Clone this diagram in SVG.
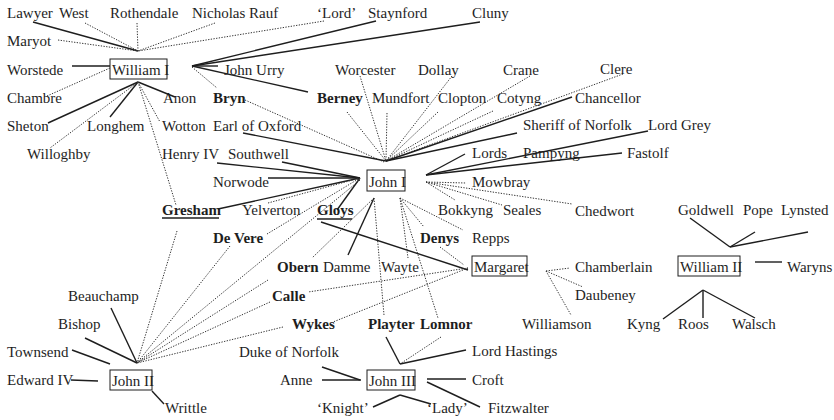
<svg xmlns="http://www.w3.org/2000/svg" width="834" height="420" viewBox="0 0 834 420">
<style>
text{font-family:"Liberation Serif","Times New Roman",serif;font-size:15px;fill:#1e1e1e}
.b{font-weight:bold}
.s{stroke:#1e1e1e;stroke-width:1.4;fill:none}
.d{stroke:#333;stroke-width:1;stroke-dasharray:1.3 1.4;fill:none}
.box{fill:#fff;stroke:#1e1e1e;stroke-width:1}
.u{stroke:#1e1e1e;stroke-width:1.3}
</style>
<rect width="834" height="420" fill="#fff"/>
<g id="connectors">
<!-- William I top hub -->
<line class="s" x1="33" y1="22" x2="138" y2="51"/>
<line class="d" x1="85" y1="23" x2="138" y2="51"/>
<line class="d" x1="137" y1="23" x2="138" y2="51"/>
<line class="d" x1="215" y1="23" x2="138" y2="51"/>
<line class="d" x1="324" y1="21" x2="138" y2="51"/>
<line class="d" x1="58" y1="40" x2="138" y2="51"/>
<!-- William I left -->
<line class="s" x1="72" y1="66" x2="110" y2="66"/>
<line class="d" x1="47" y1="96" x2="110" y2="68"/>
<!-- William I right hub -->
<line class="s" x1="192" y1="66" x2="376" y2="21"/>
<line class="s" x1="192" y1="66" x2="480" y2="22"/>
<line class="s" x1="192" y1="66" x2="218" y2="66"/>
<line class="s" x1="192" y1="66" x2="308" y2="92"/>
<line class="d" x1="192" y1="67" x2="217" y2="88"/>
<!-- William I bottom hub -->
<line class="s" x1="138" y1="82" x2="48" y2="123"/>
<line class="s" x1="138" y1="82" x2="110" y2="117"/>
<line class="s" x1="138" y1="82" x2="175" y2="97"/>
<line class="d" x1="138" y1="82" x2="50" y2="148"/>
<line class="d" x1="138" y1="82" x2="160" y2="122"/>
<line class="d" x1="138" y1="82" x2="176" y2="205"/>
<!-- John I top hub -->
<line class="d" x1="245" y1="100" x2="384" y2="162"/>
<line class="d" x1="347" y1="112" x2="386" y2="161"/>
<line class="s" x1="243" y1="133" x2="386" y2="161"/>
<line class="d" x1="360" y1="76" x2="386" y2="161"/>
<line class="d" x1="387" y1="113" x2="386" y2="161"/>
<line class="d" x1="452" y1="76" x2="386" y2="161"/>
<line class="d" x1="438" y1="112" x2="386" y2="161"/>
<line class="d" x1="530" y1="76" x2="386" y2="161"/>
<line class="d" x1="493" y1="111" x2="386" y2="161"/>
<line class="d" x1="623" y1="74" x2="386" y2="161"/>
<line class="s" x1="572" y1="97" x2="386" y2="161"/>
<line class="s" x1="517" y1="133" x2="386" y2="161"/>
<!-- John I right -->
<line class="s" x1="465" y1="154" x2="426" y2="175"/>
<line class="s" x1="648" y1="131" x2="426" y2="175"/>
<line class="s" x1="622" y1="153" x2="426" y2="175"/>
<line class="d" x1="426" y1="182" x2="466" y2="183"/>
<line class="d" x1="426" y1="182" x2="455" y2="200"/>
<line class="d" x1="426" y1="182" x2="502" y2="205"/>
<line class="d" x1="426" y1="182" x2="572" y2="204"/>
<!-- John I left hub -->
<line class="s" x1="217" y1="163" x2="360" y2="178"/>
<line class="s" x1="282" y1="162" x2="360" y2="178"/>
<line class="s" x1="268" y1="178" x2="360" y2="178"/>
<line class="s" x1="218" y1="209" x2="360" y2="178"/>
<line class="s" x1="337" y1="210" x2="360" y2="178"/>
<line class="d" x1="268" y1="203" x2="360" y2="178"/>
<line class="d" x1="267" y1="234" x2="360" y2="178"/>
<line class="d" x1="360" y1="180" x2="137" y2="363"/>
<!-- John I bottom -->
<line class="s" x1="374" y1="198" x2="348" y2="255"/>
<line class="d" x1="374" y1="198" x2="312" y2="258"/>
<line class="d" x1="374" y1="198" x2="384" y2="315"/>
<line class="d" x1="400" y1="198" x2="408" y2="258"/>
<line class="d" x1="400" y1="198" x2="438" y2="318"/>
<line class="d" x1="400" y1="198" x2="424" y2="227"/>
<line class="d" x1="400" y1="198" x2="463" y2="230"/>
<!-- Margaret -->
<line class="s" x1="321" y1="222" x2="468" y2="270"/>
<line class="d" x1="440" y1="247" x2="464" y2="265"/>
<line class="d" x1="468" y1="268" x2="308" y2="292"/>
<line class="d" x1="468" y1="268" x2="333" y2="322"/>
<line class="d" x1="546" y1="271" x2="570" y2="268"/>
<line class="d" x1="546" y1="271" x2="583" y2="287"/>
<line class="d" x1="546" y1="271" x2="571" y2="315"/>
<!-- John II hub -->
<line class="s" x1="111" y1="308" x2="137" y2="363"/>
<line class="s" x1="85" y1="338" x2="137" y2="363"/>
<line class="d" x1="177" y1="231" x2="137" y2="363"/>
<line class="d" x1="230" y1="246" x2="137" y2="363"/>
<line class="d" x1="268" y1="280" x2="137" y2="363"/>
<line class="d" x1="270" y1="302" x2="137" y2="363"/>
<line class="d" x1="283" y1="327" x2="137" y2="363"/>
<line class="s" x1="72" y1="350" x2="110" y2="364"/>
<line class="s" x1="71" y1="380" x2="98" y2="381"/>
<line class="s" x1="152" y1="391" x2="164" y2="404"/>
<!-- John III -->
<line class="s" x1="386" y1="337" x2="400" y2="364"/>
<line class="d" x1="441" y1="337" x2="400" y2="364"/>
<line class="s" x1="466" y1="350" x2="400" y2="364"/>
<line class="s" x1="322" y1="367" x2="360" y2="380"/>
<line class="s" x1="322" y1="380" x2="361" y2="380"/>
<line class="s" x1="427" y1="379" x2="466" y2="379"/>
<line class="s" x1="427" y1="382" x2="480" y2="407"/>
<line class="s" x1="373" y1="407" x2="400" y2="395"/>
<line class="s" x1="400" y1="395" x2="431" y2="404"/>
<!-- William II -->
<line class="s" x1="690" y1="218" x2="730" y2="247"/>
<line class="s" x1="755" y1="232" x2="730" y2="247"/>
<line class="s" x1="808" y1="232" x2="730" y2="247"/>
<line class="s" x1="755" y1="262" x2="782" y2="262"/>
<line class="s" x1="663" y1="319" x2="703" y2="290"/>
<line class="s" x1="703" y1="318" x2="703" y2="290"/>
<line class="s" x1="755" y1="318" x2="703" y2="290"/>
</g>
<g id="william1"><rect class="box" x="110" y="59" width="57" height="20"/><text x="112" y="75">William I</text></g>
<g id="john1"><rect class="box" x="367" y="170" width="38" height="21"/><text x="369" y="187">John I</text></g>
<g id="margaret"><rect class="box" x="472" y="256" width="55" height="20"/><text x="474" y="272">Margaret</text></g>
<g id="william2"><rect class="box" x="678" y="256" width="62" height="20"/><text x="680" y="272">William II</text></g>
<g id="john2"><rect class="box" x="110" y="370" width="42" height="20"/><text x="112" y="386">John II</text></g>
<g id="john3"><rect class="box" x="367" y="370" width="48" height="20"/><text x="369" y="386">John III</text></g>
<g id="labels">
<text x="7" y="18">Lawyer</text>
<text x="59" y="18">West</text>
<text x="110" y="18">Rothendale</text>
<text x="192" y="18">Nicholas Rauf</text>
<text x="317" y="18">‘Lord’</text>
<text x="368" y="18">Staynford</text>
<text x="472" y="18">Cluny</text>
<text x="7" y="46">Maryot</text>
<text x="7" y="75">Worstede</text>
<text x="224" y="75">John Urry</text>
<text x="335" y="75">Worcester</text>
<text x="418" y="75">Dollay</text>
<text x="503" y="75">Crane</text>
<text x="600" y="74">Clere</text>
<text x="7" y="103">Chambre</text>
<text x="163" y="103">Anon</text>
<text class="b" x="213" y="103">Bryn</text>
<text class="b" x="317" y="103">Berney</text>
<text x="372" y="103">Mundfort</text>
<text x="438" y="103">Clopton</text>
<text x="497" y="103">Cotyng</text>
<text x="575" y="103">Chancellor</text>
<text x="7" y="131">Sheton</text>
<text x="87" y="131">Longhem</text>
<text x="162" y="131">Wotton</text>
<text x="213" y="131">Earl of Oxford</text>
<text x="523" y="130">Sheriff of Norfolk</text>
<text x="648" y="130">Lord Grey</text>
<text x="27" y="159">Willoghby</text>
<text x="162" y="159">Henry IV</text>
<text x="228" y="159">Southwell</text>
<text x="472" y="158">Lords</text>
<text x="523" y="158">Pampyng</text>
<text x="627" y="158">Fastolf</text>
<text x="213" y="187">Norwode</text>
<text x="472" y="187">Mowbray</text>
<text class="b" x="162" y="215">Gresham</text>
<line class="u" x1="162" y1="218" x2="219" y2="218"/>
<text x="242" y="215">Yelverton</text>
<text class="b" x="317" y="215">Gloys</text>
<line class="u" x1="317" y1="219" x2="352" y2="219"/>
<text x="438" y="215">Bokkyng</text>
<text x="503" y="215">Seales</text>
<text x="575" y="216">Chedwort</text>
<text x="678" y="215">Goldwell</text>
<text x="743" y="215">Pope</text>
<text x="781" y="215">Lynsted</text>
<text class="b" x="213" y="243">De Vere</text>
<text class="b" x="420" y="243">Denys</text>
<text x="472" y="243">Repps</text>
<text class="b" x="277" y="272">Obern</text>
<text x="323" y="272">Damme</text>
<text x="381" y="272">Wayte</text>
<text x="575" y="272">Chamberlain</text>
<text x="787" y="272">Waryns</text>
<text x="68" y="301">Beauchamp</text>
<text class="b" x="272" y="301">Calle</text>
<text x="575" y="300">Daubeney</text>
<text x="58" y="329">Bishop</text>
<text class="b" x="292" y="329">Wykes</text>
<text class="b" x="368" y="329">Playter</text>
<text class="b" x="420" y="329">Lomnor</text>
<text x="522" y="329">Williamson</text>
<text x="627" y="329">Kyng</text>
<text x="678" y="329">Roos</text>
<text x="732" y="329">Walsch</text>
<text x="7" y="357">Townsend</text>
<text x="239" y="357">Duke of Norfolk</text>
<text x="472" y="356">Lord Hastings</text>
<text x="7" y="385">Edward IV</text>
<text x="280" y="385">Anne</text>
<text x="472" y="385">Croft</text>
<text x="165" y="413">Writtle</text>
<text x="317" y="413">‘Knight’</text>
<text x="427" y="413">‘Lady’</text>
<text x="488" y="413">Fitzwalter</text>
</g>
</svg>
